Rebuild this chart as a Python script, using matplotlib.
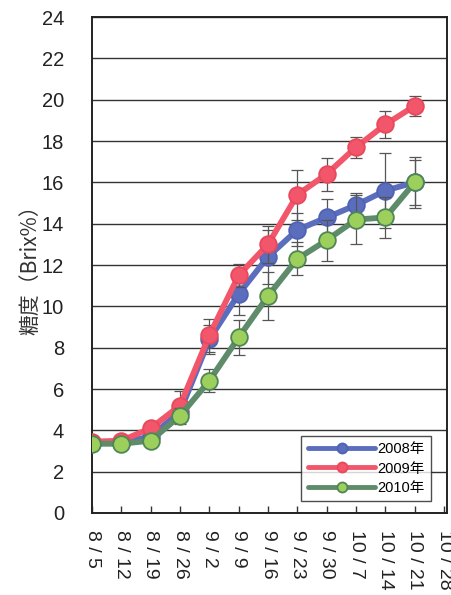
import matplotlib
matplotlib.use("Agg")
import matplotlib.pyplot as plt
import numpy as np

dates = ["8/5", "8/12", "8/19", "8/26", "9/2", "9/9", "9/16",
         "9/23", "9/30", "10/7", "10/14", "10/21", "10/28"]

brix_2008 = [3.4, 3.4, 3.7, 4.9, 8.4, 10.6, 12.4, 13.7, 14.3, 14.9, 15.6, 16.0]
err_2008 = [0.1, 0.1, 0.3, 0.5, 0.7, 1.0, 1.3, 0.8, 0.9, 0.6, 1.8, 1.1]

brix_2009 = [3.45, 3.5, 4.1, 5.2, 8.6, 11.5, 13.0, 15.4, 16.4, 17.7, 18.8, 19.7]
err_2009 = [0.1, 0.1, 0.2, 0.7, 0.8, 0.55, 0.9, 1.2, 0.8, 0.5, 0.65, 0.5]

brix_2010 = [3.35, 3.35, 3.5, 4.7, 6.4, 8.5, 10.5, 12.3, 13.2, 14.2, 14.3, 16.0]
err_2010 = [0.1, 0.1, 0.2, 0.4, 0.55, 0.85, 1.15, 0.8, 1.0, 1.2, 1.0, 1.25]

y_ticks = list(range(0, 25, 2))
series_labels = ["2008年", "2009年", "2010年"]

fig = plt.figure(figsize=(4.52, 5.95), dpi=100)
ax = fig.add_axes([92 / 452, 1 - 513 / 595, (447 - 92) / 452, (513 - 17) / 595])

x = np.arange(len(brix_2008))

styles = [
    dict(color="#5b6dbd", mfc="#5b6dbd", mec="#4f62b5"),
    dict(color="#f2566a", mfc="#f2566a", mec="#e9475b"),
    dict(color="#5e8c6a", mfc="#9dcf5c", mec="#4f8655"),
]
series = [(brix_2008, err_2008), (brix_2009, err_2009), (brix_2010, err_2010)]

for i, ((vals, errs), st, lab) in enumerate(zip(series, styles, series_labels)):
    ax.errorbar(x, vals, yerr=errs, fmt="none", ecolor="#555555",
                elinewidth=0.9, capsize=4, capthick=0.9, zorder=2 + i * 2)
    ax.plot(x, vals, "-o", color=st["color"], lw=4.2, ms=12, mfc=st["mfc"],
            mec=st["mec"], mew=1.3, label=lab, zorder=3 + i * 2,
            solid_capstyle="round")

ax.set_xlim(0, 12.1)
ax.set_ylim(0, 24)
ax.set_yticks(y_ticks)
ax.set_yticklabels([str(v) for v in y_ticks], family="Liberation Sans",
                   fontsize=14.5, color="#222222")
ax.set_xticks(np.arange(len(dates)))
ax.set_xticklabels([d.replace("/", " / ") for d in dates],
                   family="Liberation Sans",
                   fontsize=14, rotation=-90, va="top", ha="center",
                   color="#222222")

ax.tick_params(axis="y", length=0, pad=20)
ax.tick_params(axis="x", direction="in", length=5, width=1, pad=12, color="#333333")

ax.grid(axis="y", color="#333333", lw=1.0)
ax.set_axisbelow(True)
for sp in ax.spines.values():
    sp.set_color("#222222")
    sp.set_linewidth(1.4)

ax.set_ylabel("糖度（Brix%）", family=["Noto Sans CJK JP", "DejaVu Sans"],
              fontsize=15, labelpad=0, color="#333333")

leg = ax.legend(loc="lower right", bbox_to_anchor=(0.968, 0.015),
                prop={"family": ["Liberation Sans", "Noto Sans CJK JP"], "size": 10.5},
                frameon=True, fancybox=False, edgecolor="#222222",
                handlelength=4.6, markerscale=0.6, labelspacing=0.35,
                borderpad=0.45, handletextpad=0.15, borderaxespad=0.3)
leg.get_frame().set_linewidth(1.0)
for h in leg.get_lines():
    h.set_linewidth(3.5)

fig.savefig("out.png", dpi=100)
